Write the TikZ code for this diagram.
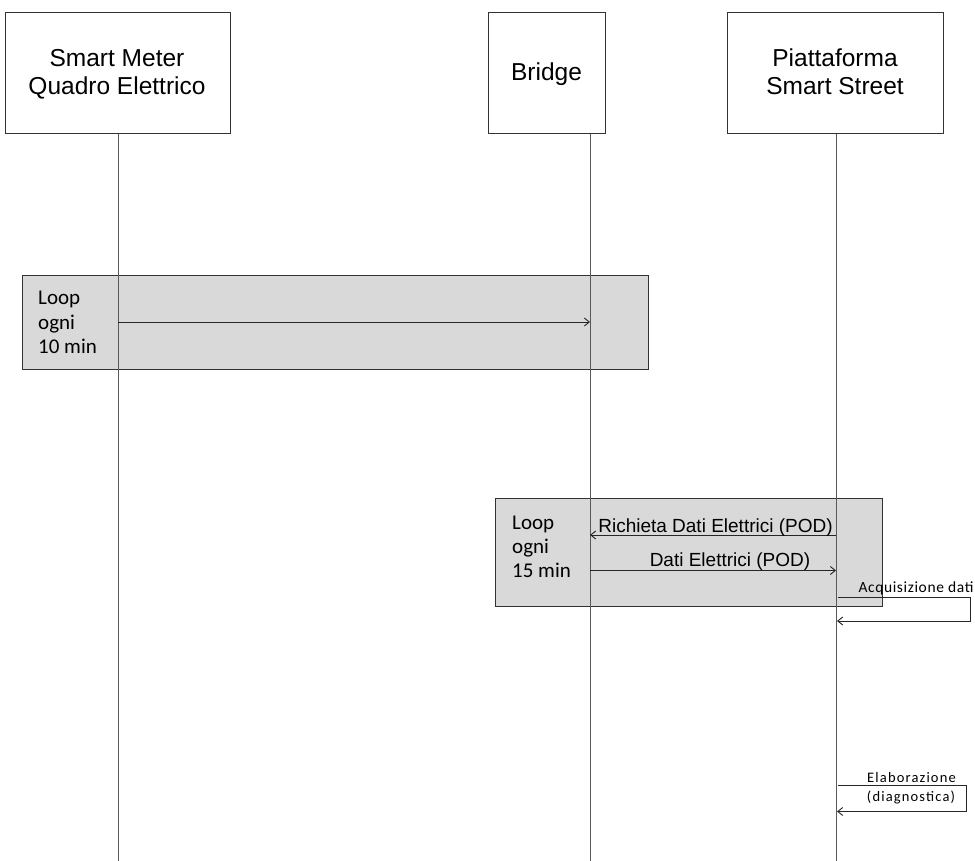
\documentclass[tikz,border=0pt]{standalone}
\usepackage{fontspec}
\setmainfont{Liberation Sans}
\newfontfamily\loopfont{Carlito}
\usetikzlibrary{arrows.meta}
\begin{document}
\begin{tikzpicture}[x=1pt,y=-1pt,
  actor/.style={draw=black!80,line width=0.9pt,fill=white,minimum width=#1,minimum height=121pt,inner sep=0pt},
  title/.style={anchor=base,inner sep=0pt,font=\fontsize{24.5}{28}\selectfont},
  lifeline/.style={draw=black!65,line width=0.9pt},
  loopbox/.style={draw=black!80,line width=0.9pt,fill=black!15},
  looplabel/.style={anchor=base west,inner sep=0pt,font=\loopfont\fontsize{21}{24}\selectfont},
  msg/.style={draw=black!85,line width=0.9pt,-{Straight Barb[length=5pt,width=8pt]}},
  msglabel/.style={anchor=base,inner sep=0pt,font=\fontsize{19}{22}\selectfont},
  selflabel/.style={anchor=base,inner sep=0pt,font=\loopfont\fontsize{15.5}{18}\selectfont\addfontfeature{LetterSpace=4}},
  selflabelsmall/.style={anchor=base,inner sep=0pt,font=\loopfont\fontsize{14.5}{17}\selectfont\addfontfeature{LetterSpace=8}}]
\useasboundingbox (0,0) rectangle (975,861);

% participants
\node[actor=225pt,anchor=north west] (sm) at (5,12) {};
\node[actor=117pt,anchor=north west] (br) at (488,12) {};
\node[actor=216pt,anchor=north west] (pl) at (727,12) {};
\node[title] (sm1) at (117,66.5) {Smart Meter};
\node[title] (sm2) at (117,95) {Quadro Elettrico};
\node[title] (br1) at (546.5,81) {Bridge};
\node[title] (pl1) at (835,66.5) {Piattaforma};
\node[title] (pl2) at (835,95) {Smart Street};

% lifeline ends
\coordinate (smend) at (118,861);
\coordinate (brend) at (590,861);
\coordinate (plend) at (836,861);

% loop frames (behind the lifelines)
\draw[loopbox] (22,275) rectangle (648,369);
\draw[loopbox] (495,498) rectangle (882,606);

% lifelines
\draw[lifeline] (sm.south -| smend) -- (smend);
\draw[lifeline] (br.south -| brend) -- (brend);
\draw[lifeline] (pl.south -| plend) -- (plend);

% loop labels
\node[looplabel] (l1a) at (38,305) {Loop};
\node[looplabel] (l1b) at (38,329) {ogni};
\node[looplabel] (l1c) at (38,353) {10 min};
\node[looplabel] (l2a) at (512,529) {Loop};
\node[looplabel] (l2b) at (512,553) {ogni};
\node[looplabel] (l2c) at (512,577) {15 min};

% messages
\coordinate (a1) at (118,322);
\coordinate (b1) at (590,322);
\draw[msg] (a1) -- (b1);

\coordinate (p2) at (836,535);
\coordinate (b2) at (590,535);
\draw[msg] (p2) -- (b2);
\node[msglabel] (m2) at (715.5,532) {Richieta Dati Elettrici (POD)};

\coordinate (b3) at (590,570.5);
\coordinate (p3) at (836,570.5);
\draw[msg] (b3) -- (p3);
\node[msglabel] (m3) at (730,566.5) {Dati Elettrici (POD)};

% self messages
\coordinate (s1a) at (838,597.5);
\coordinate (s1b) at (970,597.5);
\coordinate (s1c) at (970,621);
\coordinate (s1d) at (837,621);
\draw[msg] (s1a) -- (s1b) -- (s1c) -- (s1d);
\node[selflabel] (acq) at (916,592) {Acquisizione dati};

\coordinate (s2a) at (838,785.5);
\coordinate (s2b) at (966,785.5);
\coordinate (s2c) at (966,811.5);
\coordinate (s2d) at (837,811.5);
\draw[msg] (s2a) -- (s2b) -- (s2c) -- (s2d);
\node[selflabelsmall] (el1) at (911.5,782) {Elaborazione};
\node[selflabelsmall] (el2) at (911,801.5) {(diagnostica)};
\end{tikzpicture}
\end{document}
